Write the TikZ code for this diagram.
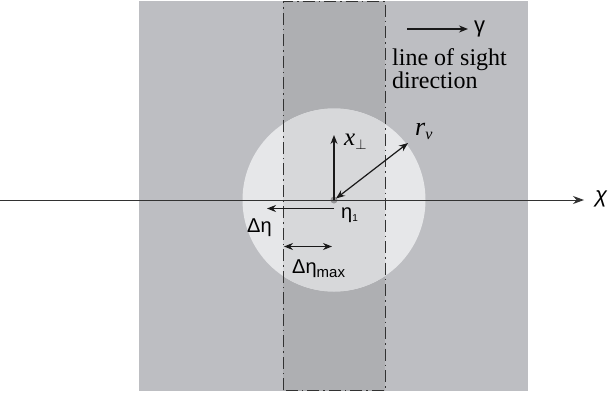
\documentclass[tikz,border=0pt]{standalone}
\usepackage{fontspec}
\setmainfont{Liberation Serif}
\newfontfamily\gk{Liberation Sans}
\usetikzlibrary{arrows.meta}
\definecolor{outergray}{RGB}{189,190,194}
\definecolor{stripegray}{RGB}{174,175,178}
\definecolor{circlelight}{RGB}{230,231,233}
\definecolor{circlemid}{RGB}{215,216,218}
\definecolor{linegray}{RGB}{50,50,50}
\definecolor{dotgray}{RGB}{150,150,152}
\tikzset{
  arr/.style={-{Stealth[length=9pt,width=7pt]}, line width=1.3pt, draw=black!90},
  darr/.style={{Stealth[length=9pt,width=7pt]}-{Stealth[length=9pt,width=7pt]}, line width=1.2pt, draw=black!90},
  dashdotline/.style={draw=linegray, line width=0.9pt, dash pattern=on 12pt off 4pt on 1.5pt off 4pt},
  gklabel/.style={inner sep=0pt, font=\gk\fontsize{20}{22}\selectfont},
  serlabel/.style={inner sep=0pt, font=\fontsize{24}{23}\selectfont},
  itlabel/.style={inner sep=0pt, font=\itshape\fontsize{25}{25}\selectfont},
}
\begin{document}
\begin{tikzpicture}[x=1pt,y=-1pt]
\useasboundingbox (0,0) rectangle (613,399);
\fill[white] (0,0) rectangle (613,399);
% background square and stripe
\fill[outergray] (139,1) rectangle (528,391);
\fill[stripegray] (283,1) rectangle (385,391);
% circle
\fill[circlelight] (334,200) circle (91.5);
\begin{scope}
  \clip (283,1) rectangle (385,391);
  \fill[circlemid] (334,200) circle (91.5);
\end{scope}
% dash-dot border of the stripe
\draw[dashdotline] (283,390) -- (283,1) -- (385,1) -- (385,390) -- cycle;
% centre point
\fill[dotgray] (334,200) circle (3.5);
\coordinate (c) at (334,200);
% chi axis
\coordinate (axl) at (0,200);
\coordinate (axr) at (584,200);
\draw[-{Stealth[length=11pt,width=8pt]}, line width=0.9pt, draw=linegray] (axl) -- (axr);
\node[gklabel, anchor=west, font=\gk\itshape\fontsize{22}{24}\selectfont] (chi) at (595,199) {χ};
% x_perp arrow
\coordinate (xt) at (334,135);
\draw[arr] (c) -- (xt);
\node[itlabel, anchor=base west] (xl) at (344,145) {x\raisebox{-4pt}{\fontsize{15}{15}\selectfont$\perp$}};
% r_v arrow
\coordinate (rt) at (408,143);
\draw[darr] (336,198.5) -- (rt);
\node[itlabel, anchor=base west, font=\itshape\fontsize{26}{26}\selectfont] (rl) at (415,135) {r\raisebox{-4pt}{\fontsize{16}{16}\selectfont v}};
% Delta eta arrow
\coordinate (ds) at (334,208.5);
\coordinate (de) at (267,208.5);
\draw[-{Stealth[length=9pt,width=7pt]}, line width=1.9pt, draw=black!90] (ds) -- (de);
\node[gklabel, anchor=base west] (dl) at (247,232) {Δη};
% eta_1 label
\node[gklabel, anchor=base west] (el) at (341,218) {η\raisebox{-3pt}{\fontsize{10}{10}\selectfont 1}};
% Delta eta max arrow
\coordinate (ma) at (284,246.5);
\coordinate (mb) at (332,246.5);
\draw[darr, line width=1.5pt] (ma) -- (mb);
\node[gklabel, anchor=base west] (ml) at (292,273) {Δη\raisebox{-4pt}{\fontsize{15}{15}\selectfont max}};
% gamma arrow
\coordinate (ga) at (407,29);
\coordinate (gb) at (468,29);
\draw[arr, line width=1.5pt] (ga) -- (gb);
\node[gklabel, anchor=base west, font=\gk\fontsize{22}{24}\selectfont] (gl) at (474,32) {γ};
% line of sight text
\node[serlabel, anchor=base west, align=left] (los) at (392,65) {line of sight};
\node[serlabel, anchor=base west, align=left] (dir) at (392,88) {direction};
\end{tikzpicture}
\end{document}
